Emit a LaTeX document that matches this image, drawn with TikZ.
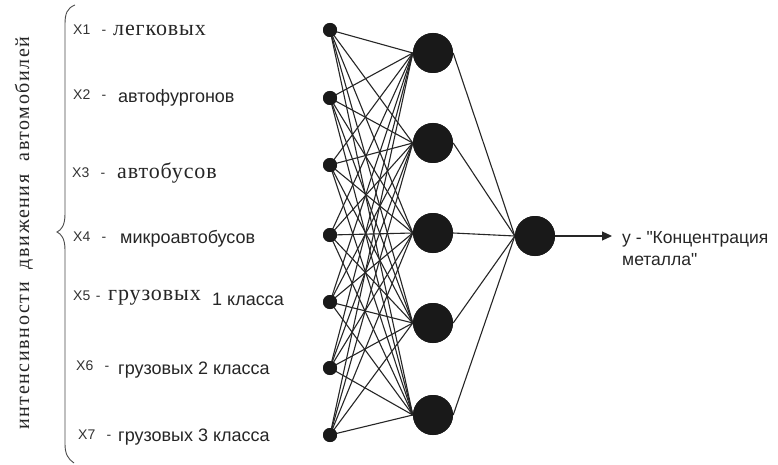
\documentclass[tikz,border=0pt]{standalone}
\usepackage{fontspec}
\setmainfont{Liberation Serif}
\setsansfont{Liberation Sans}[Ligatures=TeXOff]
\newfontfamily\spacedserif[LetterSpace=8]{Liberation Serif}
\newfontfamily\labserif[LetterSpace=4]{Liberation Serif}
\usetikzlibrary{arrows.meta}
\tikzset{
  innode/.style={circle,fill=black!90,inner sep=0pt,minimum size=14pt},
  bignode/.style={circle,fill=black!90,inner sep=0pt,minimum size=40pt},
  conn/.style={draw=black!85,line width=1.1pt},
  xlab/.style={anchor=west,inner sep=0pt,font=\sffamily\fontsize{14}{16}\selectfont,text=black!80},
  sanslab/.style={anchor=west,inner sep=0pt,font=\sffamily\fontsize{18}{20}\selectfont,text=black!85},
  seriflab/.style={anchor=west,inner sep=0pt,font=\labserif\fontsize{22}{24}\selectfont,text=black!85},
}
\newcommand{\xl}[2][0.8em]{X#2\hspace{#1}-}
\begin{document}
\begin{tikzpicture}[x=1pt,y=-1pt]
\useasboundingbox[fill=white] (0,0) rectangle (778,465);
% input nodes
\foreach \i/\y in {1/30,2/98,3/165,4/235,5/302,6/368,7/435}
  \node[innode] (i\i) at (330,\y) {};
% hidden nodes
\foreach \j/\y in {1/53,2/143,3/233,4/323,5/415}
  \node[bignode] (h\j) at (433,\y) {};
% output
\node[bignode] (o) at (535,236) {};
% connections
\foreach \i in {1,...,7}
  \foreach \j in {1,...,5}
    \draw[conn] (i\i.center) -- (h\j.west);
\foreach \j in {1,...,5}
  \draw[conn] (h\j.east) -- (o.west);
% redraw nodes over lines
\foreach \i/\y in {1/30,2/98,3/165,4/235,5/302,6/368,7/435}
  \node[innode] at (330,\y) {};
\foreach \j/\y in {1/53,2/143,3/233,4/323,5/415}
  \node[bignode] at (433,\y) {};
\node[bignode] at (535,236) {};
% output arrow
\coordinate (yend) at (612,236);
\draw[conn,-{Triangle[length=10pt,width=9pt]}] (o.east) -- (yend);
\node[anchor=north west,inner sep=0pt,align=left,font=\sffamily\fontsize{17.5}{22}\selectfont,text=black!85] (ylab) at (622,231) {у - "Концентрация\\металла"};
% labels
\node[xlab] (x1) at (73,30) {\xl{1}};
\node[seriflab] (t1) at (113,30) {легковых};
\node[xlab] (x2) at (73,95) {\xl{2}};
\node[sanslab] (t2) at (118,98) {автофургонов};
\node[xlab] (x3) at (72,173) {\xl{3}};
\node[seriflab] (t3) at (117,173) {автобусов};
\node[xlab] (x4) at (73,237) {\xl{4}};
\node[sanslab] (t4) at (120,239) {микроавтобусов};
\node[xlab] (x5) at (73,296) {\xl[0.4em]{5}};
\node[seriflab] (t5) at (108,298) {грузовых};
\node[sanslab] (t5b) at (212,299) {1 класса};
\node[xlab] (x6) at (76,366) {\xl{6}};
\node[sanslab] (t6) at (118,370) {грузовых 2 класса};
\node[xlab] (x7) at (78,435) {\xl{7}};
\node[sanslab] (t7) at (118,437) {грузовых 3 класса};
% brace
\draw[draw=black!70,line width=0.9pt] (75,5) .. controls (67,8) and (65,14) .. (65,24)
  -- (65,214) .. controls (65,226) and (61,230) .. (57,232)
  .. controls (61,234) and (65,238) .. (65,250)
  -- (65,444) .. controls (65,454) and (68,459) .. (74,463);
% rotated text
\node[rotate=90,inner sep=0pt,font=\spacedserif\fontsize{20}{22}\selectfont,text=black!85] (side) at (24,233) {интенсивности\ \ движения\ \ автомобилей};
\end{tikzpicture}
\end{document}
